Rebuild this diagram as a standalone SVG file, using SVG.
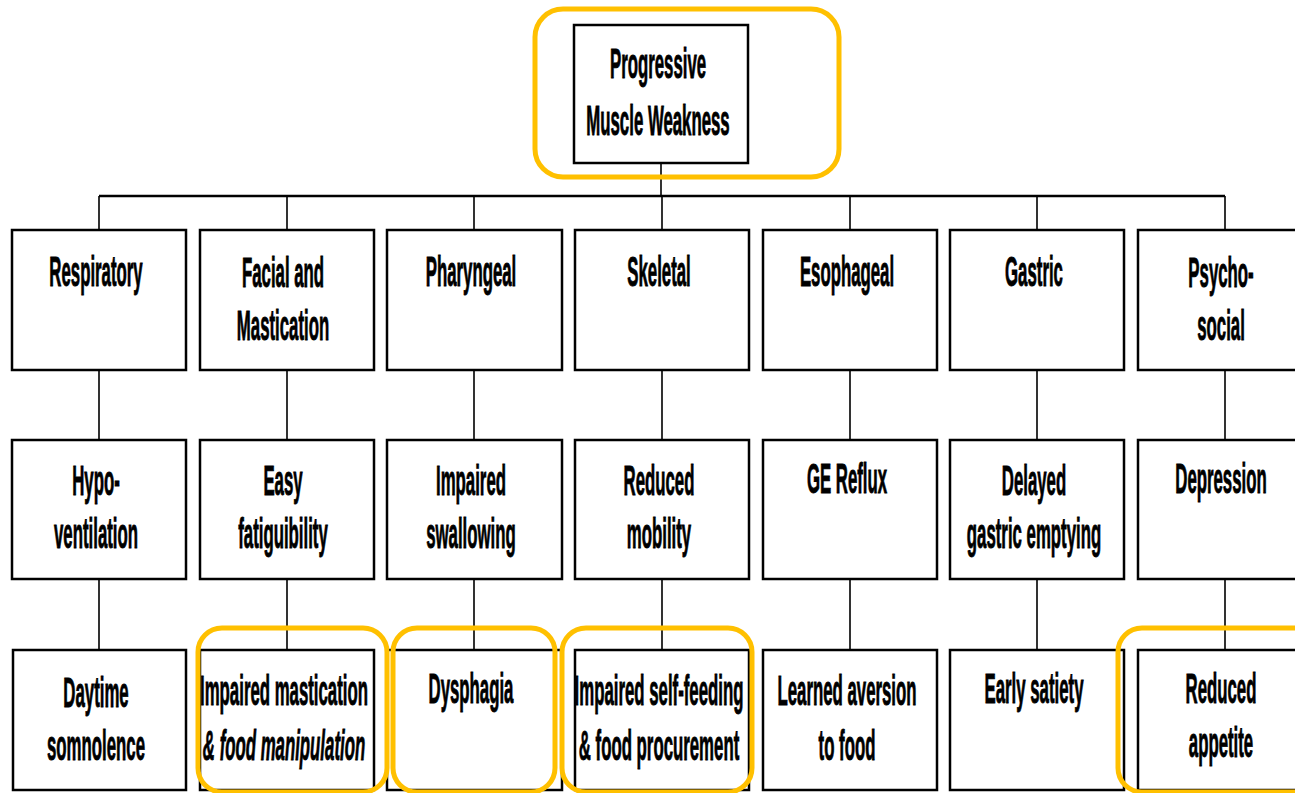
<svg xmlns="http://www.w3.org/2000/svg" width="1295" height="793" viewBox="0 0 1295 793">
<style>
.box{fill:#fff;stroke:#000;stroke-width:2.5}
.hl{fill:none;stroke:#FFC000;stroke-width:5}
.ln{fill:none;stroke:#000;stroke-width:1.6}
.bus{fill:none;stroke:#000;stroke-width:2.4}
text{font-family:"Liberation Sans",Arial,sans-serif;font-weight:bold;font-size:42px;text-anchor:middle;fill:#000;stroke:#000;stroke-width:0.9}
.it{font-style:italic}
</style>
<rect width="1295" height="793" fill="#fff"/>
<g id="connectors">
<path class="ln" d="M661,163V196"/>
<path class="bus" d="M99,196H1225"/>
<path class="ln" d="M99,196V230M287,196V230M474,196V230M662,196V230M850,196V230M1037,196V230M1225,196V230"/>
<path class="ln" d="M99,370V440M287,370V440M474,370V440M662,370V440M850,370V440M1037,370V440M1225,370V440"/>
<path class="ln" d="M99,579V650M287,579V650M474,579V650M662,579V650M850,579V650M1037,579V650M1225,579V650"/>
</g>
<g id="top">
<rect class="box" x="574" y="25" width="174" height="138"/>
<text transform="translate(658,78) scale(0.4,1)">Progressive</text>
<text transform="translate(658,135) scale(0.4,1)">Muscle Weakness</text>
</g>
<g id="respiratory"><rect class="box" x="12" y="230" width="174" height="140"/>
<text transform="translate(96,286) scale(0.4,1)">Respiratory</text></g>
<g id="facial"><rect class="box" x="200" y="230" width="174" height="140"/>
<text transform="translate(283,287) scale(0.4,1)">Facial and</text>
<text transform="translate(283,340) scale(0.4,1)">Mastication</text></g>
<g id="pharyngeal"><rect class="box" x="387" y="230" width="175" height="140"/>
<text transform="translate(471,286) scale(0.4,1)">Pharyngeal</text></g>
<g id="skeletal"><rect class="box" x="575" y="230" width="174" height="140"/>
<text transform="translate(659,286) scale(0.4,1)">Skeletal</text></g>
<g id="esophageal"><rect class="box" x="763" y="230" width="174" height="140"/>
<text transform="translate(847,286) scale(0.4,1)">Esophageal</text></g>
<g id="gastric"><rect class="box" x="950" y="230" width="174" height="140"/>
<text transform="translate(1034,286) scale(0.4,1)">Gastric</text></g>
<g id="psychosocial"><rect class="box" x="1138" y="230" width="174" height="140"/>
<text transform="translate(1221,287) scale(0.4,1)">Psycho-</text>
<text transform="translate(1221,340) scale(0.4,1)">social</text></g>

<g id="hypoventilation"><rect class="box" x="12" y="440" width="174" height="139"/>
<text transform="translate(96,495) scale(0.4,1)">Hypo-</text>
<text transform="translate(96,548) scale(0.4,1)">ventilation</text></g>
<g id="fatiguibility"><rect class="box" x="200" y="440" width="174" height="139"/>
<text transform="translate(283,495) scale(0.4,1)">Easy</text>
<text transform="translate(283,548) scale(0.4,1)">fatiguibility</text></g>
<g id="swallowing"><rect class="box" x="387" y="440" width="175" height="139"/>
<text transform="translate(471,495) scale(0.4,1)">Impaired</text>
<text transform="translate(471,548) scale(0.4,1)">swallowing</text></g>
<g id="mobility"><rect class="box" x="575" y="440" width="174" height="139"/>
<text transform="translate(659,495) scale(0.4,1)">Reduced</text>
<text transform="translate(659,548) scale(0.4,1)">mobility</text></g>
<g id="reflux"><rect class="box" x="763" y="440" width="174" height="139"/>
<text transform="translate(847,493) scale(0.4,1)">GE Reflux</text></g>
<g id="emptying"><rect class="box" x="950" y="440" width="174" height="139"/>
<text transform="translate(1034,495) scale(0.4,1)">Delayed</text>
<text transform="translate(1034,548) scale(0.4,1)">gastric emptying</text></g>
<g id="depression"><rect class="box" x="1138" y="440" width="174" height="139"/>
<text transform="translate(1221,493) scale(0.4,1)">Depression</text></g>

<g id="somnolence"><rect class="box" x="13" y="650" width="173" height="140"/>
<text transform="translate(96,707) scale(0.4,1)">Daytime</text>
<text transform="translate(96,760) scale(0.4,1)">somnolence</text></g>
<g id="mastication"><rect class="box" x="200" y="650" width="174" height="140"/>
<text transform="translate(284,705) scale(0.4,1)">Impaired mastication</text>
<text class="it" transform="translate(284,760) scale(0.4,1)">&amp; food manipulation</text></g>
<g id="dysphagia"><rect class="box" x="387" y="650" width="175" height="140"/>
<text transform="translate(471,703) scale(0.4,1)">Dysphagia</text></g>
<g id="selffeeding"><rect class="box" x="575" y="650" width="174" height="140"/>
<text transform="translate(659,705) scale(0.4,1)">Impaired self-feeding</text>
<text transform="translate(659,760) scale(0.4,1)">&amp; food procurement</text></g>
<g id="aversion"><rect class="box" x="763" y="650" width="174" height="140"/>
<text transform="translate(847,705) scale(0.4,1)">Learned aversion</text>
<text transform="translate(847,760) scale(0.4,1)">to food</text></g>
<g id="satiety"><rect class="box" x="950" y="650" width="174" height="140"/>
<text transform="translate(1034,703) scale(0.4,1)">Early satiety</text></g>
<g id="appetite"><rect class="box" x="1138" y="650" width="174" height="140"/>
<text transform="translate(1221,703) scale(0.4,1)">Reduced</text>
<text transform="translate(1221,757) scale(0.4,1)">appetite</text></g>

<g id="highlights">
<rect class="hl" x="535" y="9" width="304" height="168" rx="28"/>
<rect class="hl" x="198" y="628" width="189" height="164" rx="24"/>
<rect class="hl" x="393" y="628" width="162" height="164" rx="24"/>
<rect class="hl" x="562" y="628" width="190" height="164" rx="24"/>
<rect class="hl" x="1118" y="628" width="200" height="164" rx="24"/>
</g>
</svg>
